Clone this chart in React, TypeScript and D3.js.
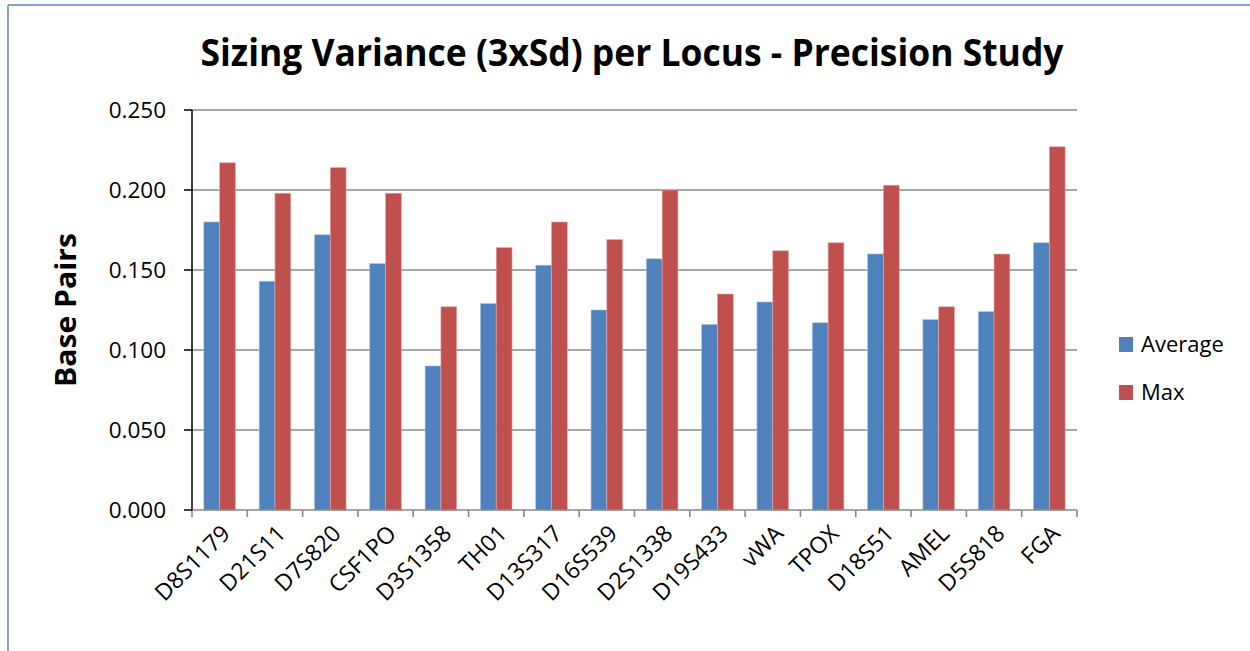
import React from "react";
import * as d3 from "d3";

const categories = ["D8S1179","D21S11","D7S820","CSF1PO","D3S1358","TH01","D13S317","D16S539","D2S1338","D19S433","vWA","TPOX","D18S51","AMEL","D5S818","FGA"];
const averageValues = [0.180,0.143,0.172,0.154,0.090,0.129,0.153,0.125,0.157,0.116,0.130,0.117,0.160,0.119,0.124,0.167];
const maxValues = [0.217,0.198,0.214,0.198,0.127,0.164,0.180,0.169,0.200,0.135,0.162,0.167,0.203,0.127,0.160,0.227];
const yTicks = [0, 0.05, 0.1, 0.15, 0.2, 0.25];
const seriesNames = ["Average", "Max"];
const seriesColors = ["#4f81bd", "#c0504d"];

const W = 1250, H = 651;
const left = 192, right = 1077, top = 110, bottom = 510;
const font = "'Open Sans', sans-serif";

export default function App() {
  const x = d3.scaleBand<string>().domain(categories).range([left, right]).paddingInner(0).paddingOuter(0);
  const y = d3.scaleLinear().domain([0, 0.25]).range([bottom, top]);
  const step = x.step();
  const bw = step / 3.5;
  const series = [averageValues, maxValues];
  const fmt = d3.format(".3f");

  return (
    <svg width={W} height={H} style={{ position: "absolute", left: 0, top: 0, background: "#fff" }}>
      <rect x={0} y={0} width={W} height={H} fill="#fff" />
      <line x1={8} y1={5} x2={W} y2={5} stroke="#5b82c0" strokeWidth={1.5} />
      <line x1={8} y1={5} x2={8} y2={H} stroke="#5b82c0" strokeWidth={1.5} />

      <text x={632} y={66} textAnchor="middle" fontFamily={font} fontWeight="bold" fontSize={38}
        textLength={863} lengthAdjust="spacingAndGlyphs" fill="#000">
        Sizing Variance (3xSd) per Locus - Precision Study
      </text>

      {yTicks.filter(t => t > 0).map(t => (
        <line key={"g" + t} x1={left} x2={right} y1={y(t)} y2={y(t)} stroke="#888" strokeWidth={1.6} />
      ))}

      {series.map((vals, si) =>
        categories.map((c, i) => {
          const cx = (x(c) as number) + step / 2;
          const bx = cx - bw + si * bw;
          return (
            <rect key={si + c} x={bx} y={y(vals[i])} width={bw} height={bottom - y(vals[i])}
              fill={seriesColors[si]} stroke={si === 0 ? "#a9c0e0" : "#e6a9a7"} strokeWidth={0.6} />
          );
        })
      )}

      <line x1={left} x2={right} y1={bottom} y2={bottom} stroke="#888" strokeWidth={1.6} />
      {d3.range(categories.length + 1).map(i => {
        const tx = left + i * step;
        return <line key={"xt" + i} x1={tx} x2={tx} y1={bottom} y2={bottom + 7} stroke="#888" strokeWidth={1.6} />;
      })}

      <line x1={left} x2={left} y1={top} y2={bottom} stroke="#000" strokeWidth={1.5} />
      {yTicks.map(t => (
        <g key={"yt" + t}>
          <line x1={left - 8} x2={left} y1={y(t)} y2={y(t)} stroke="#000" strokeWidth={1.5} />
          <text x={166} y={y(t) + 8} textAnchor="end" fontFamily={font} fontSize={22.5} fill="#000">{fmt(t)}</text>
        </g>
      ))}

      {categories.map(c => {
        const cx = (x(c) as number) + step / 2;
        return (
          <text key={"xl" + c} transform={`translate(${cx + 12},${535}) rotate(-45)`} textAnchor="end"
            fontFamily={font} fontSize={23} fill="#000">{c}</text>
        );
      })}

      <text transform={`translate(76,310) rotate(-90)`} textAnchor="middle" fontFamily={font} fontWeight="bold"
        fontSize={28} textLength={154} lengthAdjust="spacingAndGlyphs" fill="#000">Base Pairs</text>

      {seriesNames.map((n, i) => (
        <g key={n}>
          <rect x={1119} y={337 + i * 48} width={14} height={15} fill={seriesColors[i]} />
          <text x={1141} y={352 + i * 48} fontFamily={font} fontSize={22} fill="#000">{n}</text>
        </g>
      ))}
    </svg>
  );
}
